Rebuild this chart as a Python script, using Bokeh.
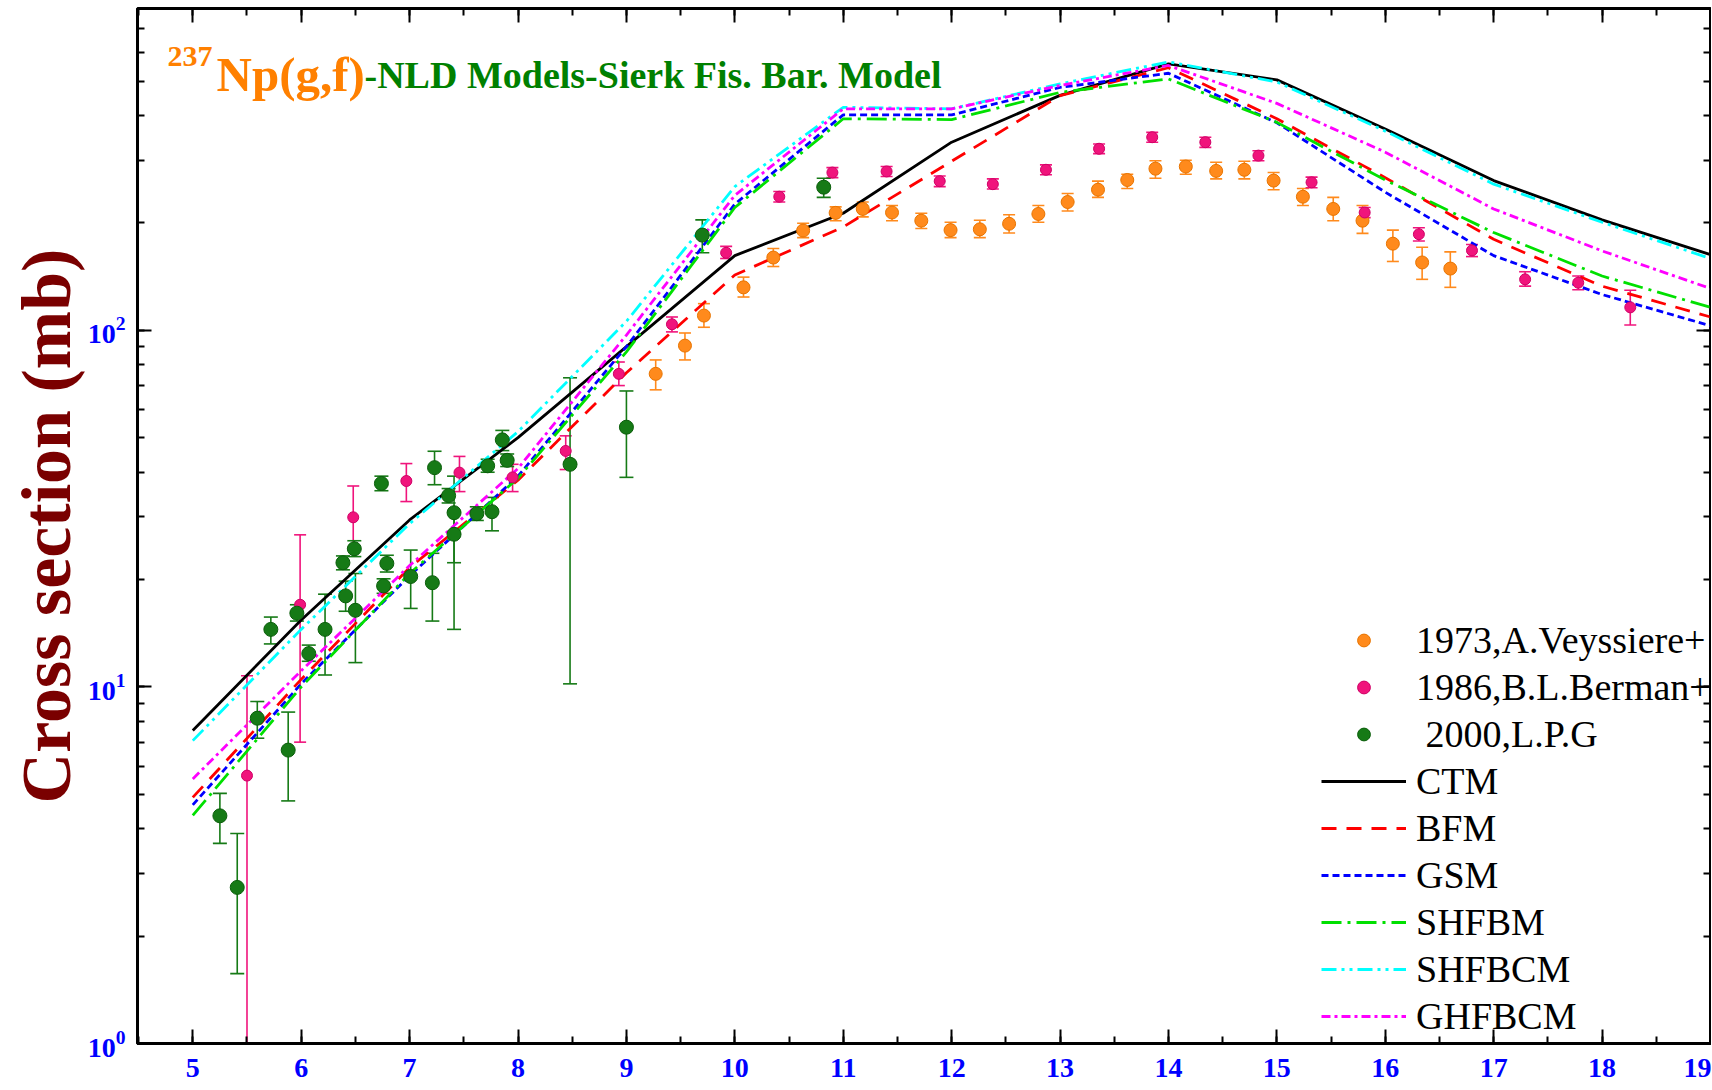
from bokeh.plotting import figure
from bokeh.models import (ColumnDataSource, Whisker, TeeHead, Legend, LegendItem,
                          LinearAxis, LogTicker, SingleIntervalTicker, Label,
                          CustomJSTickFormatter)
from bokeh.embed import file_html
from bokeh.resources import INLINE

# ---------------- model curves (energy in MeV, cross section in mb) ----------------
energy = [5, 6, 7, 8, 9, 10, 11, 12, 13, 14, 15, 16, 17, 18, 19]
ctm    = [7.55, 15.4, 29.4, 50.0, 90.0, 162, 213, 337, 456, 559, 504, 367, 263, 204, 163]
bfm    = [4.9, 10.5, 21.6, 38.0, 76.0, 143, 195, 298, 455, 545, 392, 268, 180, 133, 109]
gsm    = [4.67, 10.2, 20.5, 39.0, 90.0, 226, 402, 402, 480, 526, 382, 244, 162, 126, 103]
shfbm  = [4.36, 10.0, 20.8, 38.5, 87.0, 221, 392, 390, 465, 507, 383, 264, 188, 142, 116]
shfbcm = [7.07, 14.5, 28.7, 52.0, 106, 253, 422, 418, 491, 566, 497, 362, 257, 201, 159]
ghfbcm = [5.52, 11.1, 21.9, 41.0, 97.0, 239, 418, 418, 486, 553, 433, 316, 219, 167, 131]

# ---------------- 1973, A.Veyssiere+ ----------------
vey_e  = [9.27, 9.54, 9.715, 10.08, 10.355, 10.63, 10.93, 11.18, 11.45, 11.72, 11.99, 12.26,
          12.53, 12.80, 13.07, 13.35, 13.62, 13.88, 14.16, 14.44, 14.70, 14.97, 15.24, 15.52,
          15.79, 16.07, 16.34, 16.60]
vey_s  = [75.5, 90.6, 110, 132, 160, 190.5, 213.5, 219, 214, 203, 191, 192,
          199, 212, 229, 248, 264, 284, 288, 280, 282, 263, 237, 219,
          203, 175, 155, 149]
vey_hi = [82.6, 98.3, 118.8, 141, 169.6, 199.7, 222, 229, 224, 213, 201, 203.5,
          211, 224, 242, 262, 274, 299, 300, 296, 298, 277, 250, 236,
          224, 191, 171, 166]
vey_lo = [68.1, 82.6, 102, 124, 151, 182, 203, 208, 203, 193, 182, 182,
          187.5, 201, 216, 236, 250, 267, 274, 266, 266, 248, 224, 203,
          187, 156, 139, 132]

# ---------------- 1986, B.L.Berman+ ----------------
ber_e  = [5.50, 5.99, 6.48, 6.97, 7.46, 7.95, 8.44, 8.93, 9.42, 9.92, 10.41, 10.90, 11.40,
          11.89, 12.38, 12.87, 13.36, 13.85, 14.34, 14.83, 15.32, 15.81, 16.31, 16.80,
          17.29, 17.78, 18.26]
ber_s  = [5.64, 17.0, 29.9, 37.8, 39.9, 38.7, 45.9, 75.5, 104, 165, 237, 277, 279,
          262, 257, 282, 323, 348, 337, 309, 260, 214, 186, 167.5,
          139, 136, 116]
ber_hi = [10.75, 26.7, 36.6, 42.3, 44.3, 42.1, 50.6, 81.5, 109, 172, 245, 286, 288,
          271, 266, 291, 333, 359, 348, 319, 269, 221, 194, 174,
          146, 142, 129.5]
ber_lo = [1.0, 7.0, 24.5, 33.1, 35.3, 35.3, 40.7, 70, 99, 159, 229, 268, 270,
          253, 249, 273, 313, 337, 326, 299, 251, 207, 178, 161,
          133, 130, 103.5]

# ---------------- 2000, L.P.G ----------------
lpg_e  = [5.25, 5.41, 5.595, 5.72, 5.88, 5.96, 6.07, 6.22, 6.385, 6.41, 6.49, 6.50, 6.74,
          6.79, 6.76, 7.01, 7.21, 7.23, 7.36, 7.41, 7.41, 7.62, 7.72, 7.76, 7.855, 7.90,
          8.48, 9.00, 9.70, 10.82]
lpg_s  = [4.35, 2.74, 8.17, 14.5, 6.65, 16.1, 12.4, 14.5, 22.3, 18.0, 24.4, 16.4, 37.2,
          22.2, 19.2, 20.4, 19.6, 41.2, 34.4, 30.8, 26.8, 30.6, 41.7, 31.0, 49.3, 43.2,
          42.1, 53.5, 185, 252]
lpg_hi = [5.03, 3.88, 9.1, 15.7, 8.5, 17.0, 13.1, 18.2, 23.3, 19.8, 25.7, 20.8, 39.0,
          23.4, 20.1, 24.2, 23.7, 45.8, 36.0, 39.0, 31.0, 32.0, 43.5, 34.0, 52.4, 45.0,
          73.6, 67.6, 204, 267]
lpg_lo = [3.64, 1.57, 7.18, 13.2, 4.79, 15.3, 11.8, 10.8, 21.3, 16.3, 23.2, 11.7, 35.5,
          21.0, 18.3, 16.6, 15.3, 36.9, 32.8, 22.3, 14.5, 29.3, 40.0, 27.4, 46.0, 41.5,
          10.2, 38.7, 165, 236]

TICK_BLUE = "#0000FF"
SERIF = "Liberation Serif"

p = figure(width=1711, height=1090, x_range=(4.49, 19.0), y_range=(1.0, 799),
           y_axis_type="log", output_backend="svg", toolbar_location=None,
           min_border_left=137, min_border_right=1, min_border_top=8, min_border_bottom=47)
p.title.visible = False
p.xgrid.visible = False
p.ygrid.visible = False
p.outline_line_color = "black"
p.outline_line_width = 3
p.background_fill_color = "white"
p.border_fill_color = "white"

xa = p.xaxis[0]
xa.ticker = SingleIntervalTicker(interval=1, num_minor_ticks=2)
ya = p.yaxis[0]
ya.ticker = LogTicker(num_minor_ticks=10)
for ax in (xa, ya):
    ax.axis_line_width = 3
    ax.major_tick_in = 14
    ax.major_tick_out = 0
    ax.minor_tick_in = 7
    ax.minor_tick_out = 0
    ax.major_tick_line_width = 2
    ax.minor_tick_line_width = 2
    ax.major_label_text_font = SERIF
    ax.major_label_text_font_style = "bold"
    ax.major_label_text_color = TICK_BLUE
    ax.major_label_text_font_size = "28px"
xa.major_label_standoff = 15
ya.major_label_standoff = 12
ya.axis_label = "Cross section (mb)"
ya.axis_label_text_font = SERIF
ya.axis_label_text_font_style = "bold"
ya.axis_label_text_font_size = "70px"
ya.axis_label_text_color = "#7A0000"
ya.axis_label_standoff = 0

# top and right axes (ticks only, no labels)
blank = CustomJSTickFormatter(code="return ''")
top = LinearAxis(ticker=SingleIntervalTicker(interval=1, num_minor_ticks=2), formatter=blank)
right = LinearAxis(ticker=LogTicker(num_minor_ticks=10), formatter=blank)
for ax in (top, right):
    ax.axis_line_width = 2
    ax.major_tick_in = 14
    ax.major_tick_out = 0
    ax.minor_tick_in = 7
    ax.minor_tick_out = 0
    ax.major_tick_line_width = 2
    ax.minor_tick_line_width = 2
    ax.major_label_text_font_size = "1px"
    ax.major_label_standoff = 0
p.add_layout(top, "above")
p.add_layout(right, "right")

# ---------------- model lines ----------------
lw = 2.8
r_ctm = p.line(energy, ctm, line_color="black", line_width=2.8)
r_bfm = p.line(energy, bfm, line_color="#FF0000", line_width=lw, line_dash="15 10")
r_gsm = p.line(energy, gsm, line_color="#0000FF", line_width=lw, line_dash="7 4")
r_shfbm = p.line(energy, shfbm, line_color="#00E000", line_width=lw, line_dash="20 6 3 6")
r_shfbcm = p.line(energy, shfbcm, line_color="#00FFFF", line_width=lw, line_dash="15 5 3 5 3 5")
r_ghfbcm = p.line(energy, ghfbcm, line_color="#FF00FF", line_width=lw, line_dash="9 4 3 4")

# ---------------- experimental data ----------------
ORANGE = "#FF8A1C"
PINK = "#F0147C"
GREEN = "#167A16"

def add_errors(xs, lo, hi, color, head):
    closed = [i for i in range(len(xs)) if lo[i] > 1.0]
    open_low = [i for i in range(len(xs)) if lo[i] <= 1.0]
    src = ColumnDataSource(dict(x=[xs[i] for i in closed], lo=[lo[i] for i in closed],
                                hi=[hi[i] for i in closed]))
    p.add_layout(Whisker(source=src, base="x", lower="lo", upper="hi", dimension="height",
                         line_color=color, line_width=1.6,
                         upper_head=TeeHead(size=head, line_color=color, line_width=1.6),
                         lower_head=TeeHead(size=head, line_color=color, line_width=1.6)))
    if open_low:
        src2 = ColumnDataSource(dict(x=[xs[i] for i in open_low], lo=[lo[i] for i in open_low],
                                     hi=[hi[i] for i in open_low]))
        p.add_layout(Whisker(source=src2, base="x", lower="lo", upper="hi", dimension="height",
                             line_color=color, line_width=1.6,
                             upper_head=TeeHead(size=head, line_color=color, line_width=1.6),
                             lower_head=None))

add_errors(vey_e, vey_lo, vey_hi, ORANGE, 12)
add_errors(ber_e, ber_lo, ber_hi, PINK, 12)
add_errors(lpg_e, lpg_lo, lpg_hi, GREEN, 14)

r_vey = p.scatter(vey_e, vey_s, size=13, fill_color=ORANGE, line_color="#E87400", line_width=1)
r_ber = p.scatter(ber_e, ber_s, size=11, fill_color=PINK, line_color="#D00066", line_width=1)
r_lpg = p.scatter(lpg_e, lpg_s, size=14, fill_color=GREEN, line_color="#0B5E0B", line_width=1)

# ---------------- legend ----------------
legend = Legend(items=[
    LegendItem(label="1973,A.Veyssiere+", renderers=[r_vey]),
    LegendItem(label="1986,B.L.Berman+", renderers=[r_ber]),
    LegendItem(label=" 2000,L.P.G", renderers=[r_lpg]),
    LegendItem(label="CTM", renderers=[r_ctm]),
    LegendItem(label="BFM", renderers=[r_bfm]),
    LegendItem(label="GSM", renderers=[r_gsm]),
    LegendItem(label="SHFBM", renderers=[r_shfbm]),
    LegendItem(label="SHFBCM", renderers=[r_shfbcm]),
    LegendItem(label="GHFBCM", renderers=[r_ghfbcm]),
], location=(1184, 5), glyph_width=85, glyph_height=32, label_standoff=10,
    spacing=3, padding=0, margin=0, label_text_font=SERIF, label_text_font_size="38px",
    label_text_color="black", border_line_alpha=0, background_fill_alpha=0)
p.add_layout(legend)

# ---------------- title inside the frame ----------------
p.add_layout(Label(x=30, y=997, x_units="screen", y_units="screen", text="237",
                   text_font=SERIF, text_font_style="bold", text_font_size="30px",
                   text_color="#FF8000", text_baseline="top"))
p.add_layout(Label(x=79, y=969, x_units="screen", y_units="screen", text="Np(g,f)",
                   text_font=SERIF, text_font_style="bold", text_font_size="49px",
                   text_color="#FF8000", text_baseline="alphabetic"))
p.add_layout(Label(x=227, y=969, x_units="screen", y_units="screen",
                   text="-NLD Models-Sierk Fis. Bar. Model",
                   text_font=SERIF, text_font_style="bold", text_font_size="38px",
                   text_color="#008000", text_baseline="alphabetic"))

open("out.html", "w").write(file_html(p, INLINE))
